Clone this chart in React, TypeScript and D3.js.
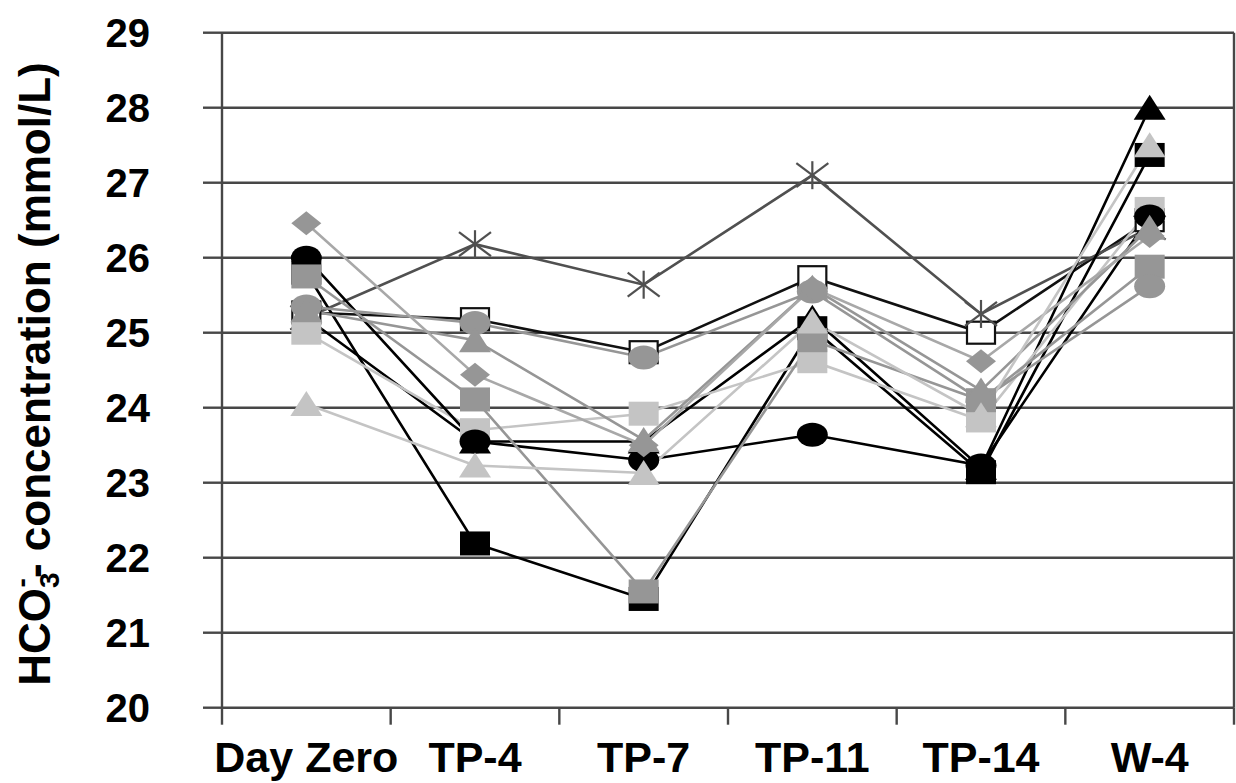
import React from "react";
import * as d3 from "d3";

const categories = ["Day Zero", "TP-4", "TP-7", "TP-11", "TP-14", "W-4"];
const yTicks = [20, 21, 22, 23, 24, 25, 26, 27, 28, 29];

// series values (mmol/L)
const hollowSquare = [25.27, 25.18, 24.74, 25.74, 25.0, 26.5];
const asterisk = [25.2, 26.18, 25.64, 27.1, 25.25, 26.4];
const blackSquare = [25.8, 22.19, 21.45, 25.06, 23.14, 27.37];
const blackTriangle = [25.2, 23.55, 23.55, 25.2, 23.2, 28.0];
const lightSquare = [25.0, 23.7, 23.92, 24.62, 23.83, 26.65];
const blackCircle = [26.0, 23.55, 23.3, 23.64, 23.23, 26.55];
const graySquare = [25.75, 24.11, 21.55, 24.9, 24.1, 25.88];
const grayCircle = [25.35, 25.13, 24.67, 25.55, 24.1, 25.62];
const grayTriangle = [25.3, 24.9, 23.57, 25.6, 24.23, 26.4];
const grayDiamond = [26.46, 24.44, 23.5, 25.6, 24.62, 26.29];
const lightTriangle = [24.05, 23.23, 23.13, 25.15, 23.9, 27.5];

type Shape = "square" | "circle" | "triangle" | "diamond" | "asterisk" | "hollow";

const BLACK = "#000000";
const GRAY = "#969696";
const LIGHT = "#c4c4c4";
const DARK = "#505050";

const series: { name: string; values: number[]; shape: Shape; color: string; line: string }[] = [
  { name: "hollowSquare", values: hollowSquare, shape: "hollow", color: "#111", line: "#111" },
  { name: "asterisk", values: asterisk, shape: "asterisk", color: DARK, line: DARK },
  { name: "blackSquare", values: blackSquare, shape: "square", color: BLACK, line: BLACK },
  { name: "blackTriangle", values: blackTriangle, shape: "triangle", color: BLACK, line: BLACK },
  { name: "lightSquare", values: lightSquare, shape: "square", color: LIGHT, line: LIGHT },
  { name: "blackCircle", values: blackCircle, shape: "circle", color: BLACK, line: BLACK },
  { name: "graySquare", values: graySquare, shape: "square", color: GRAY, line: GRAY },
  { name: "grayCircle", values: grayCircle, shape: "circle", color: GRAY, line: GRAY },
  { name: "grayTriangle", values: grayTriangle, shape: "triangle", color: GRAY, line: GRAY },
  { name: "grayDiamond", values: grayDiamond, shape: "diamond", color: GRAY, line: "#a8a8a8" },
  { name: "lightTriangle", values: lightTriangle, shape: "triangle", color: LIGHT, line: LIGHT },
];

const W = 1236;
const H = 783;
const left = 222;
const right = 1234;
const top = 32.7;
const bottom = 707.7;

const MW = 15; // half width of markers
const MH = 12; // half height of markers

function Marker({ shape, cx, cy, color }: { shape: Shape; cx: number; cy: number; color: string }) {
  switch (shape) {
    case "square":
      return <rect x={cx - MW} y={cy - MH} width={MW * 2} height={MH * 2} fill={color} />;
    case "hollow":
      return (
        <rect x={cx - MW + 1} y={cy - MH + 1} width={MW * 2 - 2} height={MH * 2 - 2} fill="#fff" stroke={color} strokeWidth={2.2} />
      );
    case "circle":
      return <ellipse cx={cx} cy={cy} rx={MW + 0.5} ry={MH} fill={color} />;
    case "triangle":
      return <path d={`M${cx},${cy - MH - 1}L${cx + MW + 1},${cy + MH}L${cx - MW - 1},${cy + MH}Z`} fill={color} />;
    case "diamond":
      return <path d={`M${cx},${cy - MH}L${cx + MW},${cy}L${cx},${cy + MH}L${cx - MW},${cy}Z`} fill={color} />;
    case "asterisk":
      return (
        <g stroke={color} strokeWidth={2.2} fill="none">
          <line x1={cx - 16} y1={cy - 12} x2={cx + 16} y2={cy + 12} />
          <line x1={cx - 16} y1={cy + 12} x2={cx + 16} y2={cy - 12} />
          <line x1={cx} y1={cy - 14} x2={cx} y2={cy + 14} />
        </g>
      );
  }
  return null;
}

export default function App() {
  const x = d3.scaleBand<string>().domain(categories).range([left, right]).paddingInner(0).paddingOuter(0);
  const y = d3.scaleLinear().domain([20, 29]).range([bottom, top]);
  const cx = (c: string) => (x(c) as number) + x.bandwidth() / 2;

  const line = d3
    .line<number>()
    .x((_, i) => cx(categories[i]))
    .y((v) => y(v));

  const gridColor = "#474747";
  const font = "'Liberation Sans', Arial, Helvetica, sans-serif";

  return (
    <svg width={W} height={H} style={{ position: "absolute", left: 0, top: 0, background: "#fff" }} fontFamily={font}>
      <rect x={0} y={0} width={W} height={H} fill="#fff" />
      {/* gridlines */}
      {yTicks.slice(1).map((t) => (
        <line key={t} x1={left} x2={right} y1={y(t)} y2={y(t)} stroke={gridColor} strokeWidth={2.4} />
      ))}
      {/* right border */}
      <line x1={right} x2={right} y1={top} y2={bottom} stroke={gridColor} strokeWidth={2.4} />
      {/* y axis */}
      <line x1={left} x2={left} y1={top} y2={bottom + 1} stroke={gridColor} strokeWidth={2.4} />
      {yTicks.map((t) => (
        <line key={"yt" + t} x1={left - 19} x2={left} y1={y(t)} y2={y(t)} stroke={gridColor} strokeWidth={2.4} />
      ))}
      {/* x axis */}
      <line x1={left} x2={right} y1={bottom} y2={bottom} stroke={gridColor} strokeWidth={2.4} />
      {categories.map((c) => (
        <line key={"xt" + c} x1={x(c) as number} x2={x(c) as number} y1={bottom} y2={bottom + 17} stroke={gridColor} strokeWidth={2.4} />
      ))}
      <line x1={right} x2={right} y1={bottom} y2={bottom + 17} stroke={gridColor} strokeWidth={2.4} />

      {/* y tick labels */}
      {yTicks.map((t) => (
        <text key={"yl" + t} x={150} y={y(t) + 14} textAnchor="end" fontSize={40} fontWeight="bold" fill="#000">
          {t}
        </text>
      ))}
      {/* x tick labels */}
      {categories.map((c) => (
        <text key={"xl" + c} x={cx(c)} y={772} textAnchor="middle" fontSize={43} fontWeight="bold" fill="#000">
          {c}
        </text>
      ))}
      {/* y title */}
      <text
        transform={`translate(50,374) rotate(-90)`}
        textAnchor="middle"
        fontSize={44}
        fontWeight="bold"
        fill="#000"
      >
        HCO<tspan fontSize={28} dy={9}>3</tspan>
        <tspan fontSize={28} dx={-15} dy={-28}>-</tspan>
        <tspan dy={19}>- concentration (mmol/L)</tspan>
      </text>

      {/* lines */}
      {series.map((s) => (
        <path key={"l" + s.name} d={line(s.values) || ""} fill="none" stroke={s.line} strokeWidth={2.6} />
      ))}
      {/* markers */}
      {series.map((s) => (
        <g key={"m" + s.name}>
          {s.values.map((v, i) => (
            <Marker key={i} shape={s.shape} cx={cx(categories[i])} cy={y(v)} color={s.color} />
          ))}
        </g>
      ))}
    </svg>
  );
}
